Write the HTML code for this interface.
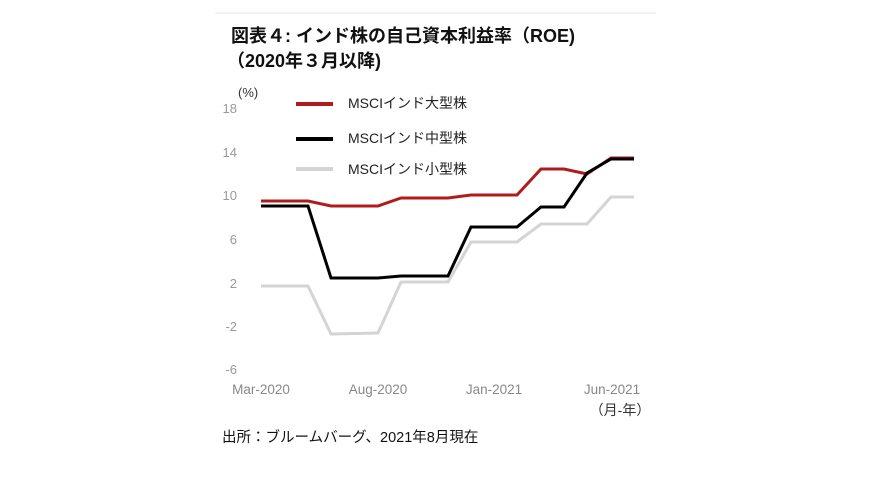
<!DOCTYPE html>
<html><head><meta charset="utf-8"><style>
html,body{margin:0;padding:0;background:#fff;width:870px;height:489px;overflow:hidden}
</style></head><body>
<svg width="870" height="489" xmlns="http://www.w3.org/2000/svg" font-family="Liberation Sans, Noto Sans CJK JP, sans-serif">
<line x1="215" y1="13" x2="656" y2="13" stroke="#e6e6e6" stroke-width="1"/>
<text x="231" y="42" font-size="18" font-weight="bold" fill="#111">図表４: インド株の自己資本利益率（ROE)</text>
<text x="227" y="67" font-size="18" font-weight="bold" fill="#111">（2020年３月以降)</text>
<text x="238" y="97" font-size="13" fill="#333">(%)</text>
<g font-size="13" fill="#999" text-anchor="end">
<text x="237" y="113">18</text><text x="237" y="157">14</text><text x="237" y="200">10</text>
<text x="237" y="244">6</text><text x="237" y="288">2</text><text x="237" y="331">-2</text><text x="237" y="374">-6</text>
</g>
<line x1="296" y1="104" x2="333" y2="104" stroke="#b01c1c" stroke-width="4"/>
<line x1="296" y1="139" x2="333" y2="139" stroke="#000" stroke-width="4"/>
<line x1="296" y1="169" x2="333" y2="169" stroke="#d4d4d4" stroke-width="4"/>
<g font-size="14" fill="#222">
<text x="348" y="108">MSCIインド大型株</text>
<text x="348" y="143">MSCIインド中型株</text>
<text x="348" y="174">MSCIインド小型株</text>
</g>
<polyline fill="none" stroke="#d4d4d4" stroke-width="3" points="261,286 308,286 331,334 378,333 401,282 448,282 471,242 517,242 541,224 587,224 611,197 634,197"/>
<polyline fill="none" stroke="#b01c1c" stroke-width="3" points="261,201 308,201 331,206 378,206 401,198 448,198 471,195 517,195 541,169 564,169 587,174 611,158 634,158"/>
<polyline fill="none" stroke="#000" stroke-width="3" points="261,206 308,206 331,278 378,278 401,276 448,276 471,227 517,227 541,207 564,207 587,173 611,159 634,159"/>
<g font-size="13.5" fill="#888" text-anchor="middle">
<text x="261" y="394">Mar-2020</text><text x="378" y="394">Aug-2020</text>
<text x="494" y="394">Jan-2021</text><text x="612" y="394">Jun-2021</text>
</g>
<text x="620" y="415" font-size="14" fill="#333" text-anchor="middle">（月-年）</text>
<text x="222" y="442" font-size="14.5" fill="#111">出所：ブルームバーグ、2021年8月現在</text>
</svg>
</body></html>
